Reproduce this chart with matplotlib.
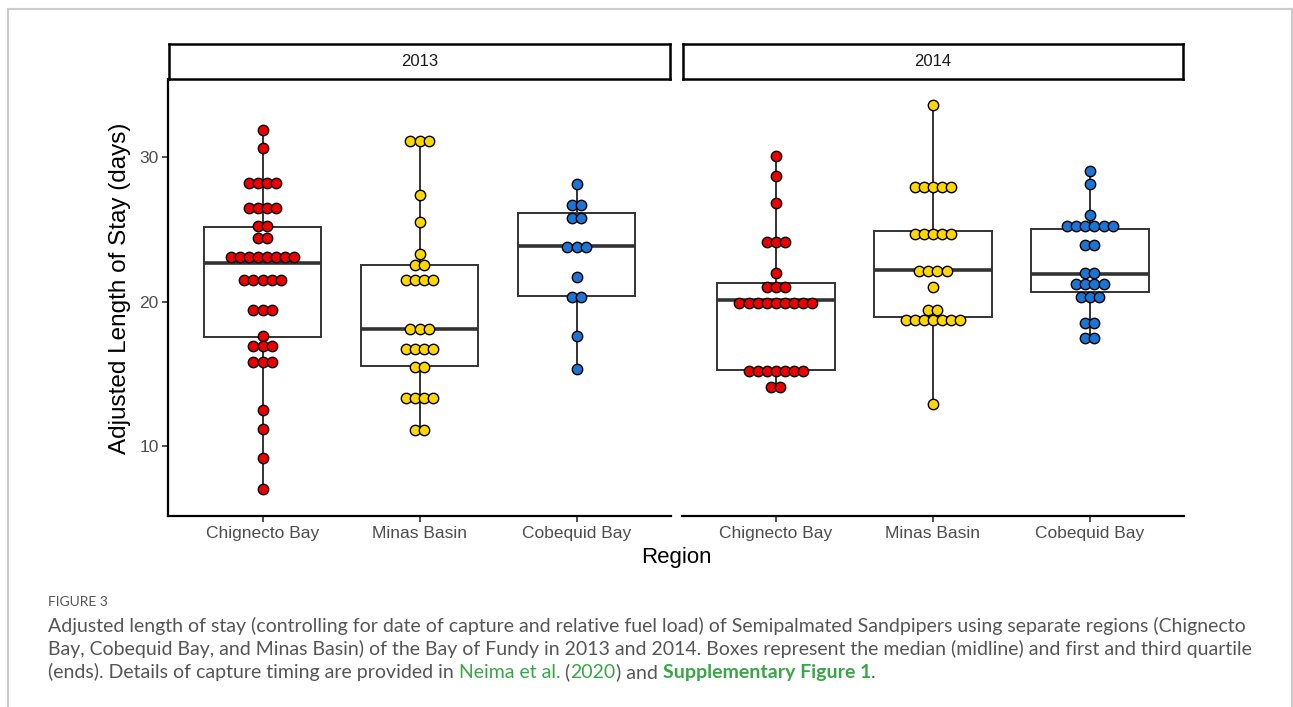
import numpy as np
import matplotlib
matplotlib.use('Agg')
import matplotlib.pyplot as plt
from matplotlib.lines import Line2D

plt.rcParams['font.family'] = ['Liberation Sans', 'DejaVu Sans']

years = ['2013', '2014']
regions = ['Chignecto Bay', 'Minas Basin', 'Cobequid Bay']
region_colors = ['#ee0000', '#ffd700', '#1c74d4']

# dot levels (days) and how many birds sit on each level, per year/region
levels_2013 = [
    [31.9, 30.6, 28.2, 26.5, 25.2, 24.4, 23.1, 21.5, 19.4, 17.6, 16.9, 15.8, 12.5, 11.2, 9.2, 7.0],
    [31.1, 27.4, 25.5, 23.3, 22.5, 21.5, 18.1, 16.7, 15.5, 13.3, 11.1],
    [28.1, 26.7, 25.8, 23.8, 21.7, 20.3, 17.6, 15.3],
]
counts_2013 = [
    [1, 1, 4, 4, 2, 2, 8, 5, 3, 1, 3, 3, 1, 1, 1, 1],
    [3, 1, 1, 1, 2, 4, 3, 4, 2, 4, 2],
    [1, 2, 2, 3, 1, 2, 1, 1],
]
levels_2014 = [
    [30.1, 28.7, 26.8, 24.1, 22.0, 21.0, 19.9, 15.2, 14.1],
    [33.6, 27.9, 24.7, 22.1, 21.0, 19.4, 18.7, 12.9],
    [29.0, 28.1, 26.0, 25.2, 23.9, 22.0, 21.2, 20.3, 18.5, 17.5],
]
counts_2014 = [
    [1, 1, 1, 3, 1, 3, 9, 7, 2],
    [1, 5, 5, 4, 1, 2, 7, 1],
    [1, 1, 1, 6, 2, 2, 4, 3, 2, 2],
]

# box summaries: first quartile, median, third quartile
q1_2013 = [17.56, 15.54, 20.38]
med_2013 = [22.68, 18.10, 23.84]
q3_2013 = [25.18, 22.53, 26.10]
q1_2014 = [15.26, 18.95, 20.64]
med_2014 = [20.10, 22.18, 21.88]
q3_2014 = [21.26, 24.90, 25.02]

panels = [
    (levels_2013, counts_2013, q1_2013, med_2013, q3_2013),
    (levels_2014, counts_2014, q1_2014, med_2014, q3_2014),
]

W, H = 1293, 707
fig = plt.figure(figsize=(W / 100, H / 100), dpi=100)

# light grey frame around the figure
fig.add_artist(Line2D([8 / W, 8 / W], [0, 1 - 9 / H], color='#cccccc', lw=1.5))
fig.add_artist(Line2D([8 / W, 1292 / W], [1 - 9 / H, 1 - 9 / H], color='#cccccc', lw=1.5))
fig.add_artist(Line2D([1292 / W, 1292 / W], [0, 1 - 9 / H], color='#cccccc', lw=1.5))

panel_left = [168.3, 681.7]
panel_w = 502.4
top, bottom = 79, 516
dot_step = 0.058

for p, (levels, counts, q1, med, q3) in enumerate(panels):
    ax = fig.add_axes([panel_left[p] / W, 1 - bottom / H, panel_w / W, (bottom - top) / H])
    stats = []
    for i in range(3):
        vals = np.repeat(levels[i], counts[i])
        stats.append(dict(med=med[i], q1=q1[i], q3=q3[i],
                          whislo=vals.min(), whishi=vals.max(), fliers=[]))
    ax.bxp(stats, positions=[1, 2, 3], widths=0.75, patch_artist=True,
           showcaps=False, showfliers=False,
           boxprops=dict(facecolor='white', edgecolor='#333333', linewidth=1.4),
           whiskerprops=dict(color='#333333', linewidth=1.4),
           medianprops=dict(color='#333333', linewidth=2.6))

    # centred dot stacks
    for i in range(3):
        xs, ys = [], []
        for lv, n in zip(levels[i], counts[i]):
            off = (np.arange(n) - (n - 1) / 2) * dot_step
            xs.extend(i + 1 + off)
            ys.extend([lv] * n)
        ax.scatter(xs, ys, s=56, color=region_colors[i], edgecolor='black',
                   linewidth=1.0, zorder=5)

    ax.set_xlim(0.4, 3.6)
    ax.set_ylim(5.16, 35.40)
    ax.set_xticks([1, 2, 3])
    ax.set_xticklabels(regions, fontsize=12.5, color='#4d4d4d')
    for s in ['top', 'right']:
        ax.spines[s].set_visible(False)
    ax.spines['bottom'].set_linewidth(1.6)
    ax.spines['left'].set_linewidth(1.6)
    ax.tick_params(axis='x', length=4, width=1.2, color='#333333', pad=3)
    if p == 0:
        ax.set_yticks([10, 20, 30])
        ax.set_yticklabels(['10', '20', '30'], fontsize=12.5, color='#4d4d4d')
        ax.tick_params(axis='y', length=4, width=1.2, color='#333333', pad=3)
    else:
        ax.spines['left'].set_visible(False)
        ax.set_yticks([])

    # facet strip
    sx = fig.add_axes([(panel_left[p] + 1) / W, 1 - 79 / H, (panel_w - 2) / W, 35 / H])
    sx.set_xticks([])
    sx.set_yticks([])
    for s in sx.spines.values():
        s.set_linewidth(1.8)
        s.set_color('black')
    sx.text(0.5, 0.5, years[p], ha='center', va='center', fontsize=12, color='#1a1a1a')

fig.text(676 / W, 1 - 557 / H, 'Region', ha='center', va='center', fontsize=16)
fig.text(120 / W, 1 - 288 / H, 'Adjusted Length of Stay (days)', rotation=90,
         ha='center', va='center', fontsize=17.5)

# caption
cap_font = ['Lato', 'DejaVu Sans']
grey = '#555555'
green = '#3aa547'
cap_size = 14
fig.text(48 / W, 1 - 602 / H, 'FIGURE 3', fontsize=10, color=grey, va='center', family=cap_font)
lines = [
    'Adjusted length of stay (controlling for date of capture and relative fuel load) '
    'of Semipalmated Sandpipers using separate regions (Chignecto',
    'Bay, Cobequid Bay, and Minas Basin) of the Bay of Fundy in 2013 and 2014. '
    'Boxes represent the median (midline) and first and third quartile',
]
for k, line in enumerate(lines):
    fig.text(48 / W, 1 - (632 + 23 * k) / H, line, fontsize=cap_size, color=grey,
             va='baseline', family=cap_font)

# last line mixes grey text with green links; place the pieces one after another
pieces = [
    ('(ends). Details of capture timing are provided in ', grey, 'normal'),
    ('Neima et al.', green, 'normal'),
    (' (', grey, 'normal'),
    ('2020', green, 'normal'),
    (') and ', grey, 'normal'),
    ('Supplementary Figure 1', green, 'bold'),
    ('.', grey, 'normal'),
]
renderer = fig.canvas.get_renderer()
x = 48
for txt, col, wt in pieces:
    t = fig.text(x / W, 1 - 678 / H, txt, fontsize=cap_size, color=col, fontweight=wt,
                 va='baseline', family=cap_font)
    x += t.get_window_extent(renderer).width

fig.savefig('out.png', dpi=100)
